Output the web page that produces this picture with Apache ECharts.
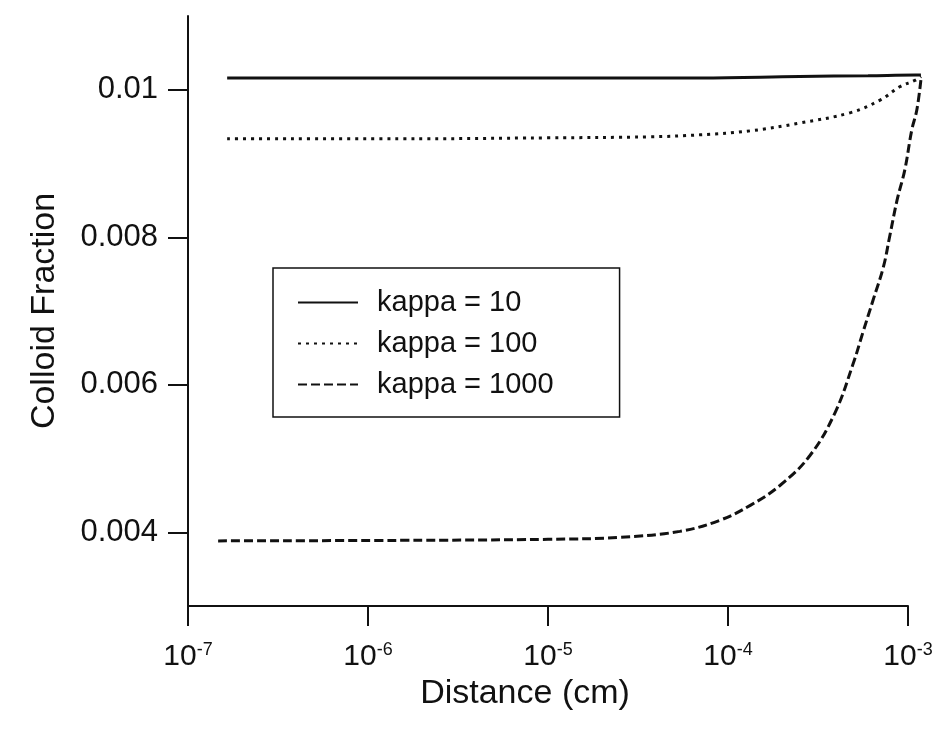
<!DOCTYPE html>
<html>
<head>
<meta charset="utf-8">
<title>Colloid Fraction vs Distance</title>
<script src="https://cdn.jsdelivr.net/npm/echarts@6/dist/echarts.min.js"></script>
<style>
  html, body { margin: 0; padding: 0; background: #fff; }
  #chart { width: 943px; height: 731px; }
</style>
</head>
<body>
<div id="chart"></div>
<script>
// tick values / labels
const yTickValues = [0.004, 0.006, 0.008, 0.01]
const xTickExponents = [-7, -6, -5, -4, -3]

// kappa = 10 (solid)
const k10Dist = [1.65e-7, 1e-6, 1e-5, 7e-5, 2.5e-4, 6e-4, 1.1e-3, 1.18e-3]
const k10Frac = [0.01016, 0.01016, 0.01016, 0.01016, 0.01018, 0.01019, 0.0102, 0.0102]

// kappa = 100 (dotted)
const k100Dist = [1.65e-7, 1.5e-6, 1e-5, 3.7e-5, 7e-5, 1.33e-4, 2.52e-4, 4.8e-4, 7e-4, 9e-4, 1.1e-3, 1.18e-3]
const k100Frac = [0.009335, 0.009335, 0.009348, 0.009362, 0.009389, 0.009443, 0.00955, 0.00969, 0.00986, 0.01004, 0.01013, 0.01018]

// kappa = 1000 (dashed)
const k1000Dist = [1.47e-7, 1.5e-6, 1e-5, 2.5e-5, 5.4e-5, 9e-5, 1.33e-4, 1.95e-4, 2.86e-4, 3.93e-4, 4.95e-4, 5.6e-4, 6.4e-4, 7.3e-4, 7.9e-4, 8.7e-4, 9.6e-4, 1.05e-3, 1.12e-3, 1.18e-3]
const k1000Frac = [0.003883, 0.00389, 0.003904, 0.003931, 0.004012, 0.004162, 0.004365, 0.004637, 0.005044, 0.00562, 0.00628, 0.0067, 0.007149, 0.007597, 0.008004, 0.008506, 0.008914, 0.009457, 0.009728, 0.01014]

const seriesNames = ['kappa = 10', 'kappa = 100', 'kappa = 1000']

const font = '"Liberation Sans", Arial, Helvetica, sans-serif'
const ink = '#111'

const pairs = (xs, ys) => xs.map((x, i) => [x, ys[i]])

const chart = echarts.init(document.getElementById('chart'))

// curves run a little past 10^-3, so they sit on a second, wider (hidden) grid
// 720px over 4 decades -> 0.1 decade = 18px extra on the right
const lineSeries = (name, xs, ys, type) => ({
  name: name,
  type: 'line',
  xAxisIndex: 1,
  yAxisIndex: 1,
  data: pairs(xs, ys),
  symbol: 'none',
  clip: false,
  smooth: 0.4,
  lineStyle: { color: ink, width: 3, type: type },
  itemStyle: { color: ink }
})

const option = {
  animation: false,
  backgroundColor: '#fff',
  grid: [
    { left: 188, right: 35, top: 16, bottom: 125 },
    { left: 188, right: 17, top: 16, bottom: 125 }
  ],
  legend: {
    orient: 'vertical',
    left: 273,
    top: 268,
    data: seriesNames,
    itemWidth: 60,
    itemHeight: 14,
    itemGap: 12,
    padding: [20, 66, 18, 24],
    borderColor: ink,
    borderWidth: 1.5,
    itemStyle: { opacity: 0 },
    textStyle: { fontFamily: font, fontSize: 29, color: ink, lineHeight: 28, padding: [0, 0, 0, 14] }
  },
  xAxis: [{
    type: 'log',
    gridIndex: 0,
    logBase: 10,
    min: 1e-7,
    max: 1e-3,
    name: 'Distance (cm)',
    nameLocation: 'middle',
    nameGap: 49,
    nameTextStyle: { fontFamily: font, fontSize: 34, color: ink, padding: [0, 46, 0, 0] },
    axisLine: { lineStyle: { color: ink, width: 2 } },
    axisTick: { length: 20, lineStyle: { color: ink, width: 2 } },
    splitLine: { show: false },
    minorTick: { show: false },
    axisLabel: {
      margin: 35,
      formatter: function (v) {
        const e = Math.round(Math.log10(v))
        if (xTickExponents.indexOf(e) < 0) return ''
        return '{b|10}{s|' + e + '}'
      },
      rich: {
        b: { fontFamily: font, fontSize: 30, color: ink },
        s: { fontFamily: font, fontSize: 18, color: ink, padding: [0, 0, 14, 0] }
      }
    }
  }, {
    type: 'log',
    gridIndex: 1,
    logBase: 10,
    min: 1e-7,
    max: Math.pow(10, -2.9),
    show: false
  }],
  yAxis: [{
    type: 'value',
    gridIndex: 0,
    min: 0.003,
    max: 0.011,
    name: 'Colloid Fraction',
    nameLocation: 'middle',
    nameGap: 126,
    nameTextStyle: { fontFamily: font, fontSize: 34, color: ink },
    axisLine: { show: true, lineStyle: { color: ink, width: 2 } },
    axisTick: { show: true, length: 20, customValues: yTickValues, lineStyle: { color: ink, width: 2 } },
    splitLine: { show: false },
    axisLabel: {
      margin: 30,
      customValues: yTickValues,
      fontFamily: font,
      fontSize: 31,
      color: ink,
      formatter: function (v) { return String(+v.toFixed(3)) }
    }
  }, {
    type: 'value',
    gridIndex: 1,
    min: 0.003,
    max: 0.011,
    show: false
  }],
  series: [
    lineSeries(seriesNames[0], k10Dist, k10Frac, 'solid'),
    lineSeries(seriesNames[1], k100Dist, k100Frac, [3, 5]),
    lineSeries(seriesNames[2], k1000Dist, k1000Frac, [9, 4])
  ]
}

chart.setOption(option)
</script>
</body>
</html>
